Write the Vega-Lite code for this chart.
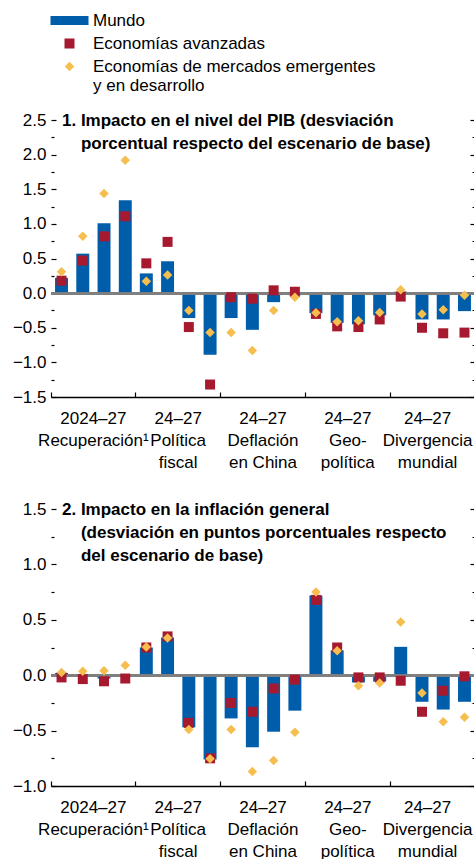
{
  "$schema": "https://vega.github.io/schema/vega-lite/v6.json",
  "autosize": {"type": "pad"},
  "padding": {"top": 12, "left": 12, "right": 0, "bottom": 0},
  "background": "#ffffff",
  "datasets": {
    "d": [
      {"p": 1, "g": "R", "a": "2024", "Mundo": 0.22, "Economías avanzadas": 0.18, "Economías de mercados emergentes y en desarrollo": 0.31},
      {"p": 1, "g": "R", "a": "2025", "Mundo": 0.57, "Economías avanzadas": 0.47, "Economías de mercados emergentes y en desarrollo": 0.82},
      {"p": 1, "g": "R", "a": "2026", "Mundo": 1.01, "Economías avanzadas": 0.82, "Economías de mercados emergentes y en desarrollo": 1.44},
      {"p": 1, "g": "R", "a": "2027", "Mundo": 1.34, "Economías avanzadas": 1.11, "Economías de mercados emergentes y en desarrollo": 1.92},
      {"p": 1, "g": "P", "a": "2024", "Mundo": 0.285, "Economías avanzadas": 0.43, "Economías de mercados emergentes y en desarrollo": 0.17},
      {"p": 1, "g": "P", "a": "2025", "Mundo": 0.46, "Economías avanzadas": 0.74, "Economías de mercados emergentes y en desarrollo": 0.26},
      {"p": 1, "g": "P", "a": "2026", "Mundo": -0.36, "Economías avanzadas": -0.49, "Economías de mercados emergentes y en desarrollo": -0.25},
      {"p": 1, "g": "P", "a": "2027", "Mundo": -0.89, "Economías avanzadas": -1.32, "Economías de mercados emergentes y en desarrollo": -0.57},
      {"p": 1, "g": "D", "a": "2024", "Mundo": -0.36, "Economías avanzadas": -0.06, "Economías de mercados emergentes y en desarrollo": -0.57},
      {"p": 1, "g": "D", "a": "2025", "Mundo": -0.53, "Economías avanzadas": -0.08, "Economías de mercados emergentes y en desarrollo": -0.83},
      {"p": 1, "g": "D", "a": "2026", "Mundo": -0.13, "Economías avanzadas": 0.04, "Economías de mercados emergentes y en desarrollo": -0.25},
      {"p": 1, "g": "D", "a": "2027", "Mundo": -0.03, "Economías avanzadas": 0.02, "Economías de mercados emergentes y en desarrollo": -0.06},
      {"p": 1, "g": "G", "a": "2024", "Mundo": -0.29, "Economías avanzadas": -0.3, "Economías de mercados emergentes y en desarrollo": -0.285},
      {"p": 1, "g": "G", "a": "2025", "Mundo": -0.43, "Economías avanzadas": -0.48, "Economías de mercados emergentes y en desarrollo": -0.415},
      {"p": 1, "g": "G", "a": "2026", "Mundo": -0.45, "Economías avanzadas": -0.49, "Economías de mercados emergentes y en desarrollo": -0.4},
      {"p": 1, "g": "G", "a": "2027", "Mundo": -0.32, "Economías avanzadas": -0.38, "Economías de mercados emergentes y en desarrollo": -0.28},
      {"p": 1, "g": "V", "a": "2024", "Mundo": 0.02, "Economías avanzadas": -0.05, "Economías de mercados emergentes y en desarrollo": 0.05},
      {"p": 1, "g": "V", "a": "2025", "Mundo": -0.38, "Economías avanzadas": -0.5, "Economías de mercados emergentes y en desarrollo": -0.3},
      {"p": 1, "g": "V", "a": "2026", "Mundo": -0.38, "Economías avanzadas": -0.58, "Economías de mercados emergentes y en desarrollo": -0.24},
      {"p": 1, "g": "V", "a": "2027", "Mundo": -0.26, "Economías avanzadas": -0.57, "Economías de mercados emergentes y en desarrollo": -0.03},
      {"p": 2, "g": "R", "a": "2024", "Mundo": 0.02, "Economías avanzadas": -0.02, "Economías de mercados emergentes y en desarrollo": 0.025},
      {"p": 2, "g": "R", "a": "2025", "Mundo": 0.01, "Economías avanzadas": -0.035, "Economías de mercados emergentes y en desarrollo": 0.035},
      {"p": 2, "g": "R", "a": "2026", "Mundo": -0.03, "Economías avanzadas": -0.055, "Economías de mercados emergentes y en desarrollo": 0.04},
      {"p": 2, "g": "R", "a": "2027", "Mundo": -0.015, "Economías avanzadas": -0.03, "Economías de mercados emergentes y en desarrollo": 0.09},
      {"p": 2, "g": "P", "a": "2024", "Mundo": 0.25, "Economías avanzadas": 0.25, "Economías de mercados emergentes y en desarrollo": 0.255},
      {"p": 2, "g": "P", "a": "2025", "Mundo": 0.34, "Economías avanzadas": 0.35, "Economías de mercados emergentes y en desarrollo": 0.335},
      {"p": 2, "g": "P", "a": "2026", "Mundo": -0.47, "Economías avanzadas": -0.43, "Economías de mercados emergentes y en desarrollo": -0.49},
      {"p": 2, "g": "P", "a": "2027", "Mundo": -0.76, "Economías avanzadas": -0.75, "Economías de mercados emergentes y en desarrollo": -0.755},
      {"p": 2, "g": "D", "a": "2024", "Mundo": -0.39, "Economías avanzadas": -0.25, "Economías de mercados emergentes y en desarrollo": -0.49},
      {"p": 2, "g": "D", "a": "2025", "Mundo": -0.65, "Economías avanzadas": -0.33, "Economías de mercados emergentes y en desarrollo": -0.87},
      {"p": 2, "g": "D", "a": "2026", "Mundo": -0.51, "Economías avanzadas": -0.12, "Economías de mercados emergentes y en desarrollo": -0.77},
      {"p": 2, "g": "D", "a": "2027", "Mundo": -0.32, "Economías avanzadas": -0.04, "Economías de mercados emergentes y en desarrollo": -0.515},
      {"p": 2, "g": "G", "a": "2024", "Mundo": 0.72, "Economías avanzadas": 0.68, "Economías de mercados emergentes y en desarrollo": 0.75},
      {"p": 2, "g": "G", "a": "2025", "Mundo": 0.225, "Economías avanzadas": 0.25, "Economías de mercados emergentes y en desarrollo": 0.22},
      {"p": 2, "g": "G", "a": "2026", "Mundo": -0.065, "Economías avanzadas": -0.02, "Economías de mercados emergentes y en desarrollo": -0.095},
      {"p": 2, "g": "G", "a": "2027", "Mundo": -0.057, "Economías avanzadas": -0.02, "Economías de mercados emergentes y en desarrollo": -0.07},
      {"p": 2, "g": "V", "a": "2024", "Mundo": 0.256, "Economías avanzadas": -0.05, "Economías de mercados emergentes y en desarrollo": 0.48},
      {"p": 2, "g": "V", "a": "2025", "Mundo": -0.24, "Economías avanzadas": -0.33, "Economías de mercados emergentes y en desarrollo": -0.16},
      {"p": 2, "g": "V", "a": "2026", "Mundo": -0.31, "Economías avanzadas": -0.14, "Economías de mercados emergentes y en desarrollo": -0.42},
      {"p": 2, "g": "V", "a": "2027", "Mundo": -0.24, "Economías avanzadas": -0.01, "Economías de mercados emergentes y en desarrollo": -0.38}
    ]
  },
  "data": {"name": "d"},
  "transform": [
    {"fold": ["Mundo", "Economías avanzadas", "Economías de mercados emergentes y en desarrollo"], "as": ["serie", "valor"]}
  ],
  "spacing": 30,
  "resolve": {"scale": {"color": "independent", "shape": "independent", "y": "independent"}},
  "vconcat": [
    {
      "width": 424,
      "height": 277,
      "title": {
        "text": ["1. Impacto en el nivel del PIB (desviación", "\u200b\u00a0\u00a0\u00a0\u00a0porcentual respecto del escenario de base)"],
        "anchor": "start", "frame": "group", "dx": 11, "offset": -141, "baseline": "top", "lineHeight": 23,
        "font": "Liberation Sans", "fontSize": 17, "fontWeight": "bold", "color": "#000"
      },
      "transform": [{"filter": "datum.p == 1"}],
      "layer": [
        {
          "transform": [{"filter": "datum.serie == 'Mundo'"}],
          "mark": {"type": "bar"},
          "encoding": {
            "x": {"field": "g", "type": "nominal", "sort": ["R", "P", "D", "G", "V"], "scale": {"paddingInner": 0, "paddingOuter": 0},
              "axis": {"title": null, "domain": true, "domainColor": "#000", "domainWidth": 1.5, "ticks": true, "bandPosition": 0, "tickSize": -5, "tickColor": "#000", "tickWidth": 1.2,
                "labelAngle": 0, "labelAlign": "center", "labelBaseline": "top", "labelPadding": 18, "labelLineHeight": 22,
                "labelOffset": {"condition": {"test": "datum.value == 'V'", "value": -5}, "value": 0},
                "labelExpr": "datum.value == 'R' ? ['2024–27', 'Recuperación¹'] : datum.value == 'P' ? ['24–27', 'Política', 'fiscal'] : datum.value == 'D' ? ['24–27', 'Deflación', 'en China'] : datum.value == 'G' ? ['24–27', 'Geo-', 'política'] : ['24–27', 'Divergencia', 'mundial']"}},
            "xOffset": {"field": "a", "type": "nominal", "scale": {"paddingInner": 0.39, "paddingOuter": 0.19}},
            "y": {"field": "valor", "type": "quantitative", "scale": {"domain": [-1.5, 2.5], "nice": false, "zero": false},
              "axis": {"orient": "left", "title": null, "values": [-1.5, -1.25, -1, -0.75, -0.5, -0.25, 0, 0.25, 0.5, 0.75, 1, 1.25, 1.5, 1.75, 2, 2.25, 2.5],
                "labelExpr": "abs(datum.value*2 - round(datum.value*2)) > 0.01 ? '' : format(datum.value, '.1f')",
                "tickSize": {"condition": {"test": "abs(datum.value*2 - round(datum.value*2)) > 0.01", "value": -3}, "value": -5},
                "labelPadding": 10}},
            "color": {"field": "serie", "type": "nominal",
              "scale": {"domain": ["Mundo", "Economías avanzadas", "Economías de mercados emergentes y en desarrollo"], "range": ["#005DAA", "#A6192E", "#F6BE4F"]},
              "legend": {"orient": "none", "legendX": 10, "legendY": -108, "title": null, "padding": 0,
                "labelFont": "Liberation Sans", "labelFontSize": 17, "labelColor": "#000", "labelOffset": 15,
                "symbolSize": 100, "symbolStrokeWidth": 0, "rowPadding": 5, "labelLimit": 400,
                "labelExpr": "datum.label == 'Economías de mercados emergentes y en desarrollo' ? ['Economías de mercados emergentes', 'y en desarrollo'] : datum.label"}}
          }
        },
        {
          "mark": {"type": "rule", "color": "#7f7f7f", "strokeWidth": 2},
          "encoding": {"y": {"datum": 0, "type": "quantitative", "axis": null}}
        },
        {
          "transform": [{"filter": "datum.serie != 'Mundo'"}],
          "mark": {"type": "point", "filled": true, "size": 100, "opacity": 1, "strokeWidth": 0},
          "encoding": {
            "x": {"field": "g", "type": "nominal", "sort": ["R", "P", "D", "G", "V"], "scale": {"paddingInner": 0, "paddingOuter": 0},
              "axis": {"title": null, "domain": true, "domainColor": "#000", "domainWidth": 1.5, "ticks": true, "bandPosition": 0, "tickSize": -5, "tickColor": "#000", "tickWidth": 1.2,
                "labelAngle": 0, "labelAlign": "center", "labelBaseline": "top", "labelPadding": 18, "labelLineHeight": 22,
                "labelOffset": {"condition": {"test": "datum.value == 'V'", "value": -5}, "value": 0},
                "labelExpr": "datum.value == 'R' ? ['2024–27', 'Recuperación¹'] : datum.value == 'P' ? ['24–27', 'Política', 'fiscal'] : datum.value == 'D' ? ['24–27', 'Deflación', 'en China'] : datum.value == 'G' ? ['24–27', 'Geo-', 'política'] : ['24–27', 'Divergencia', 'mundial']"}},
            "xOffset": {"field": "a", "type": "nominal", "scale": {"paddingInner": 0.39, "paddingOuter": 0.19}},
            "y": {"field": "valor", "type": "quantitative",
              "axis": {"orient": "right", "title": null, "labels": false, "values": [-1.5, -1.25, -1, -0.75, -0.5, -0.25, 0, 0.25, 0.5, 0.75, 1, 1.25, 1.5, 1.75, 2, 2.25, 2.5],
                "tickSize": {"condition": {"test": "abs(datum.value*2 - round(datum.value*2)) > 0.01", "value": -3}, "value": -5}}},
            "color": {"field": "serie", "type": "nominal",
              "scale": {"domain": ["Mundo", "Economías avanzadas", "Economías de mercados emergentes y en desarrollo"], "range": ["#005DAA", "#A6192E", "#F6BE4F"]}},
            "shape": {"field": "serie", "type": "nominal",
              "scale": {"domain": ["Mundo", "Economías avanzadas", "Economías de mercados emergentes y en desarrollo"], "range": ["M-3.8,-0.9H3.8V0.9H-3.8Z", "square", "M0,-0.95L0.95,0L0,0.95L-0.95,0Z"]}}
          }
        }
      ],
      "resolve": {"axis": {"y": "independent"}}
    },
    {
      "width": 424,
      "height": 277,
      "title": {
        "text": ["2. Impacto en la inflación general", "\u200b\u00a0\u00a0\u00a0\u00a0(desviación en puntos porcentuales respecto", "\u200b\u00a0\u00a0\u00a0\u00a0del escenario de base)"],
        "anchor": "start", "frame": "group", "dx": 11, "offset": -65, "baseline": "top", "lineHeight": 23,
        "font": "Liberation Sans", "fontSize": 17, "fontWeight": "bold", "color": "#000"
      },
      "transform": [{"filter": "datum.p == 2"}],
      "layer": [
        {
          "transform": [{"filter": "datum.serie == 'Mundo'"}],
          "mark": {"type": "bar"},
          "encoding": {
            "x": {"field": "g", "type": "nominal", "sort": ["R", "P", "D", "G", "V"], "scale": {"paddingInner": 0, "paddingOuter": 0},
              "axis": {"title": null, "domain": true, "domainColor": "#000", "domainWidth": 1.5, "ticks": true, "bandPosition": 0, "tickSize": -5, "tickColor": "#000", "tickWidth": 1.2,
                "labelAngle": 0, "labelAlign": "center", "labelBaseline": "top", "labelPadding": 18, "labelLineHeight": 22,
                "labelOffset": {"condition": {"test": "datum.value == 'V'", "value": -5}, "value": 0},
                "labelExpr": "datum.value == 'R' ? ['2024–27', 'Recuperación¹'] : datum.value == 'P' ? ['24–27', 'Política', 'fiscal'] : datum.value == 'D' ? ['24–27', 'Deflación', 'en China'] : datum.value == 'G' ? ['24–27', 'Geo-', 'política'] : ['24–27', 'Divergencia', 'mundial']"}},
            "xOffset": {"field": "a", "type": "nominal", "scale": {"paddingInner": 0.39, "paddingOuter": 0.19}},
            "y": {"field": "valor", "type": "quantitative", "scale": {"domain": [-1, 1.5], "nice": false, "zero": false},
              "axis": {"orient": "left", "title": null, "values": [-1, -0.75, -0.5, -0.25, 0, 0.25, 0.5, 0.75, 1, 1.25, 1.5],
                "labelExpr": "abs(datum.value*2 - round(datum.value*2)) > 0.01 ? '' : format(datum.value, '.1f')",
                "tickSize": {"condition": {"test": "abs(datum.value*2 - round(datum.value*2)) > 0.01", "value": -3}, "value": -5},
                "labelPadding": 10}},
            "color": {"field": "serie", "type": "nominal", "legend": null,
              "scale": {"domain": ["Mundo", "Economías avanzadas", "Economías de mercados emergentes y en desarrollo"], "range": ["#005DAA", "#A6192E", "#F6BE4F"]}}
          }
        },
        {
          "mark": {"type": "rule", "color": "#7f7f7f", "strokeWidth": 2},
          "encoding": {"y": {"datum": 0, "type": "quantitative", "axis": null}}
        },
        {
          "transform": [{"filter": "datum.serie != 'Mundo'"}],
          "mark": {"type": "point", "filled": true, "size": 100, "opacity": 1, "strokeWidth": 0},
          "encoding": {
            "x": {"field": "g", "type": "nominal", "sort": ["R", "P", "D", "G", "V"], "scale": {"paddingInner": 0, "paddingOuter": 0},
              "axis": {"title": null, "domain": true, "domainColor": "#000", "domainWidth": 1.5, "ticks": true, "bandPosition": 0, "tickSize": -5, "tickColor": "#000", "tickWidth": 1.2,
                "labelAngle": 0, "labelAlign": "center", "labelBaseline": "top", "labelPadding": 18, "labelLineHeight": 22,
                "labelOffset": {"condition": {"test": "datum.value == 'V'", "value": -5}, "value": 0},
                "labelExpr": "datum.value == 'R' ? ['2024–27', 'Recuperación¹'] : datum.value == 'P' ? ['24–27', 'Política', 'fiscal'] : datum.value == 'D' ? ['24–27', 'Deflación', 'en China'] : datum.value == 'G' ? ['24–27', 'Geo-', 'política'] : ['24–27', 'Divergencia', 'mundial']"}},
            "xOffset": {"field": "a", "type": "nominal", "scale": {"paddingInner": 0.39, "paddingOuter": 0.19}},
            "y": {"field": "valor", "type": "quantitative",
              "axis": {"orient": "right", "title": null, "labels": false, "values": [-1, -0.75, -0.5, -0.25, 0, 0.25, 0.5, 0.75, 1, 1.25, 1.5],
                "tickSize": {"condition": {"test": "abs(datum.value*2 - round(datum.value*2)) > 0.01", "value": -3}, "value": -5}}},
            "color": {"field": "serie", "type": "nominal", "legend": null,
              "scale": {"domain": ["Mundo", "Economías avanzadas", "Economías de mercados emergentes y en desarrollo"], "range": ["#005DAA", "#A6192E", "#F6BE4F"]}},
            "shape": {"field": "serie", "type": "nominal", "legend": null,
              "scale": {"domain": ["Mundo", "Economías avanzadas", "Economías de mercados emergentes y en desarrollo"], "range": ["M-3.8,-0.9H3.8V0.9H-3.8Z", "square", "M0,-0.95L0.95,0L0,0.95L-0.95,0Z"]}}
          }
        }
      ],
      "resolve": {"axis": {"y": "independent"}}
    }
  ],
  "config": {
    "font": "Liberation Sans",
    "view": {"stroke": null},
    "axis": {"grid": false, "domain": false, "labelFont": "Liberation Sans", "labelFontSize": 17, "labelColor": "#000", "tickColor": "#000", "tickWidth": 1.2}
  }
}
